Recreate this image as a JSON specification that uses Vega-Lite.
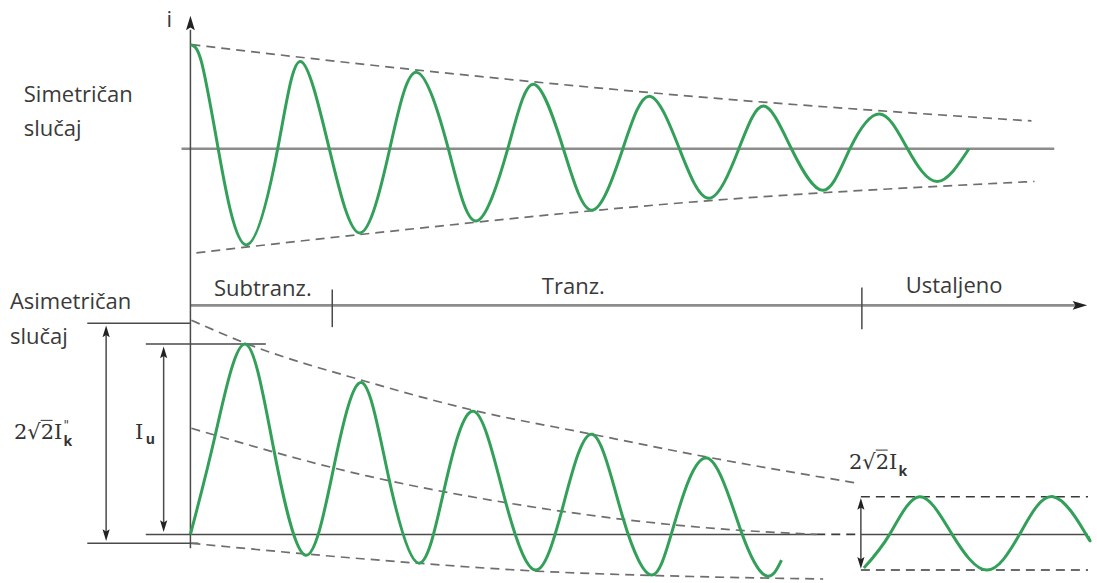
{
  "$schema": "https://vega.github.io/schema/vega-lite/v6.json",
  "width": 1097,
  "height": 583,
  "padding": 0,
  "autosize": {"type": "fit", "contains": "padding"},
  "background": "white",
  "config": {"view": {"stroke": null}},
  "datasets": {
    "waves": [
      {"w": "sym", "t": 192, "i": 45}, {"w": "sym", "t": 203, "i": 62}, {"w": "sym", "t": 220, "i": 150}, {"w": "sym", "t": 248, "i": 247}, {"w": "sym", "t": 280, "i": 150},
      {"w": "sym", "t": 303, "i": 62}, {"w": "sym", "t": 332, "i": 150}, {"w": "sym", "t": 363, "i": 235}, {"w": "sym", "t": 393, "i": 150},
      {"w": "sym", "t": 420, "i": 73}, {"w": "sym", "t": 452, "i": 150}, {"w": "sym", "t": 480, "i": 223}, {"w": "sym", "t": 512, "i": 150},
      {"w": "sym", "t": 538, "i": 85}, {"w": "sym", "t": 568, "i": 150}, {"w": "sym", "t": 597, "i": 212}, {"w": "sym", "t": 628, "i": 150},
      {"w": "sym", "t": 655, "i": 97}, {"w": "sym", "t": 685, "i": 150}, {"w": "sym", "t": 715, "i": 200}, {"w": "sym", "t": 745, "i": 150},
      {"w": "sym", "t": 770, "i": 107}, {"w": "sym", "t": 798, "i": 150}, {"w": "sym", "t": 830, "i": 192}, {"w": "sym", "t": 857, "i": 150},
      {"w": "sym", "t": 887, "i": 115}, {"w": "sym", "t": 915, "i": 150}, {"w": "sym", "t": 945, "i": 183}, {"w": "sym", "t": 977, "i": 150},
      {"w": "asym", "t": 192, "i": 539}, {"w": "asym", "t": 217, "i": 439}, {"w": "asym", "t": 247, "i": 347}, {"w": "asym", "t": 276, "i": 453},
      {"w": "asym", "t": 308, "i": 560}, {"w": "asym", "t": 337, "i": 469}, {"w": "asym", "t": 365, "i": 386}, {"w": "asym", "t": 392, "i": 482},
      {"w": "asym", "t": 422, "i": 568}, {"w": "asym", "t": 448, "i": 493}, {"w": "asym", "t": 478, "i": 415}, {"w": "asym", "t": 510, "i": 507},
      {"w": "asym", "t": 540, "i": 575}, {"w": "asym", "t": 567, "i": 513}, {"w": "asym", "t": 597, "i": 438}, {"w": "asym", "t": 628, "i": 522},
      {"w": "asym", "t": 657, "i": 580}, {"w": "asym", "t": 680, "i": 528}, {"w": "asym", "t": 713, "i": 462}, {"w": "asym", "t": 748, "i": 538},
      {"w": "asym", "t": 773, "i": 581}, {"w": "asym", "t": 788, "i": 565},
      {"w": "steady", "t": 871, "i": 573}, {"w": "steady", "t": 897, "i": 539}, {"w": "steady", "t": 927, "i": 501}, {"w": "steady", "t": 960, "i": 539},
      {"w": "steady", "t": 995, "i": 575}, {"w": "steady", "t": 1028, "i": 539}, {"w": "steady", "t": 1062, "i": 501}, {"w": "steady", "t": 1095, "i": 539},
      {"w": "steady", "t": 1097, "i": 541}
    ],
    "envelopes": [
      {"e": "symUp", "t": 193, "i": 45}, {"e": "symUp", "t": 368, "i": 65}, {"e": "symUp", "t": 720, "i": 99}, {"e": "symUp", "t": 1040, "i": 122},
      {"e": "symLo", "t": 198, "i": 255}, {"e": "symLo", "t": 368, "i": 236}, {"e": "symLo", "t": 720, "i": 202}, {"e": "symLo", "t": 1043, "i": 183},
      {"e": "asUp", "t": 193, "i": 323}, {"e": "asUp", "t": 247, "i": 346}, {"e": "asUp", "t": 370, "i": 385}, {"e": "asUp", "t": 478, "i": 414},
      {"e": "asUp", "t": 597, "i": 438}, {"e": "asUp", "t": 713, "i": 461}, {"e": "asUp", "t": 862, "i": 487},
      {"e": "asMid", "t": 193, "i": 432}, {"e": "asMid", "t": 370, "i": 480}, {"e": "asMid", "t": 510, "i": 507}, {"e": "asMid", "t": 720, "i": 533}, {"e": "asMid", "t": 823, "i": 539},
      {"e": "asLo", "t": 193, "i": 548}, {"e": "asLo", "t": 370, "i": 564}, {"e": "asLo", "t": 540, "i": 576}, {"e": "asLo", "t": 720, "i": 582}, {"e": "asLo", "t": 830, "i": 584}
    ],
    "thickRules": [
      {"t1": 183, "i1": 150, "t2": 1063, "i2": 150},
      {"t1": 192, "i1": 308, "t2": 1088, "i2": 308}
    ],
    "thinRules": [
      {"t1": 192, "i1": 30, "t2": 192, "i2": 553},
      {"t1": 335, "i1": 292, "t2": 335, "i2": 330},
      {"t1": 869, "i1": 290, "t2": 869, "i2": 332},
      {"t1": 147, "i1": 539, "t2": 823, "i2": 539},
      {"t1": 868, "i1": 539, "t2": 1097, "i2": 539},
      {"t1": 88, "i1": 326, "t2": 192, "i2": 326},
      {"t1": 147, "i1": 347, "t2": 268, "i2": 347},
      {"t1": 88, "i1": 548, "t2": 200, "i2": 548},
      {"t1": 107, "i1": 336, "t2": 107, "i2": 538},
      {"t1": 165, "i1": 357, "t2": 165, "i2": 529},
      {"t1": 868, "i1": 510, "t2": 868, "i2": 566}
    ],
    "overlines": [
      {"t1": 41, "i1": 424, "t2": 53, "i2": 424},
      {"t1": 883, "i1": 454, "t2": 895, "i2": 454}
    ],
    "dashRules": [
      {"t1": 823, "i1": 539, "t2": 868, "i2": 539},
      {"t1": 868, "i1": 501, "t2": 1097, "i2": 501},
      {"t1": 868, "i1": 575, "t2": 1097, "i2": 575}
    ],
    "axisHeads": [
      {"t": 192, "i": 24, "dir": "up"},
      {"t": 1088, "i": 308, "dir": "right"}
    ],
    "heads": [
      {"t": 107, "i": 335, "dir": "up"},
      {"t": 107, "i": 539, "dir": "down"},
      {"t": 165, "i": 356, "dir": "up"},
      {"t": 165, "i": 530, "dir": "down"},
      {"t": 868, "i": 509, "dir": "up"},
      {"t": 868, "i": 567, "dir": "down"}
    ],
    "labelsLeft": [
      {"t": 24, "i": 96, "label": "Simetričan"},
      {"t": 24, "i": 130, "label": "slučaj"},
      {"t": 10, "i": 305, "label": "Asimetričan"},
      {"t": 10, "i": 340, "label": "slučaj"},
      {"t": 168, "i": 20, "label": "i"}
    ],
    "labelsCenter": [
      {"t": 265, "i": 292, "label": "Subtranz."},
      {"t": 578, "i": 289, "label": "Tranz."},
      {"t": 962, "i": 288, "label": "Ustaljeno"}
    ],
    "mathMain": [
      {"t": 14, "i": 437, "label": "2√2I"},
      {"t": 136, "i": 437, "label": "I"},
      {"t": 856, "i": 467, "label": "2√2I"}
    ],
    "mathSup": [
      {"t": 64, "i": 430, "label": "\""}
    ],
    "mathSub": [
      {"t": 64, "i": 446, "label": "k"},
      {"t": 147, "i": 444, "label": "u"},
      {"t": 906, "i": 476, "label": "k"}
    ]
  },
  "encoding": {
    "x": {"type": "quantitative", "scale": {"domain": [0, 1097], "nice": false, "zero": false}, "axis": null},
    "y": {"type": "quantitative", "scale": {"domain": [0, 583], "nice": false, "zero": false, "reverse": true}, "axis": null}
  },
  "layer": [
    {
      "data": {"name": "thickRules"},
      "mark": {"type": "rule", "color": "#8c8c8c", "strokeWidth": 2.6},
      "encoding": {"x": {"field": "t1"}, "y": {"field": "i1"}, "x2": {"field": "t2"}, "y2": {"field": "i2"}}
    },
    {
      "data": {"name": "thinRules"},
      "mark": {"type": "rule", "color": "#4a4a4a", "strokeWidth": 1.5},
      "encoding": {"x": {"field": "t1"}, "y": {"field": "i1"}, "x2": {"field": "t2"}, "y2": {"field": "i2"}}
    },
    {
      "data": {"name": "overlines"},
      "mark": {"type": "rule", "color": "#333333", "strokeWidth": 1},
      "encoding": {"x": {"field": "t1"}, "y": {"field": "i1"}, "x2": {"field": "t2"}, "y2": {"field": "i2"}}
    },
    {
      "data": {"name": "dashRules"},
      "mark": {"type": "rule", "color": "#3a3a3a", "strokeWidth": 1.6, "strokeDash": [9, 6]},
      "encoding": {"x": {"field": "t1"}, "y": {"field": "i1"}, "x2": {"field": "t2"}, "y2": {"field": "i2"}}
    },
    {
      "data": {"name": "envelopes"},
      "mark": {"type": "line", "color": "#6e6e6e", "strokeWidth": 1.7, "strokeDash": [9, 6], "interpolate": "monotone"},
      "encoding": {"x": {"field": "t"}, "y": {"field": "i"}, "detail": {"field": "e"}}
    },
    {
      "data": {"name": "waves"},
      "mark": {"type": "line", "color": "#33a05a", "strokeWidth": 3, "interpolate": "natural"},
      "encoding": {"x": {"field": "t"}, "y": {"field": "i"}, "detail": {"field": "w"}}
    },
    {
      "data": {"name": "axisHeads"},
      "mark": {"type": "point", "filled": true, "color": "#222222", "opacity": 1, "size": 260},
      "encoding": {
        "x": {"field": "t"}, "y": {"field": "i"},
        "shape": {"field": "dir", "type": "nominal", "legend": null,
          "scale": {"domain": ["up", "down", "right"], "range": ["M0,-1L0.55,0.8L0,0.45L-0.55,0.8Z", "M0,1L0.55,-0.8L0,-0.45L-0.55,-0.8Z", "M1,0L-0.8,0.55L-0.45,0L-0.8,-0.55Z"]}}
      }
    },
    {
      "data": {"name": "heads"},
      "mark": {"type": "point", "filled": true, "color": "#222222", "opacity": 1, "size": 170},
      "encoding": {
        "x": {"field": "t"}, "y": {"field": "i"},
        "shape": {"field": "dir", "type": "nominal", "legend": null,
          "scale": {"domain": ["up", "down", "right"], "range": ["M0,-1L0.55,0.8L0,0.45L-0.55,0.8Z", "M0,1L0.55,-0.8L0,-0.45L-0.55,-0.8Z", "M1,0L-0.8,0.55L-0.45,0L-0.8,-0.55Z"]}}
      }
    },
    {
      "data": {"name": "labelsLeft"},
      "mark": {"type": "text", "align": "left", "baseline": "middle", "font": "Open Sans", "fontSize": 22, "color": "#3a3a3a"},
      "encoding": {"x": {"field": "t"}, "y": {"field": "i"}, "text": {"field": "label"}}
    },
    {
      "data": {"name": "labelsCenter"},
      "mark": {"type": "text", "align": "center", "baseline": "middle", "font": "Open Sans", "fontSize": 22, "color": "#3a3a3a"},
      "encoding": {"x": {"field": "t"}, "y": {"field": "i"}, "text": {"field": "label"}}
    },
    {
      "data": {"name": "mathMain"},
      "mark": {"type": "text", "align": "left", "baseline": "middle", "font": "DejaVu Serif", "fontSize": 21, "color": "#333333"},
      "encoding": {"x": {"field": "t"}, "y": {"field": "i"}, "text": {"field": "label"}}
    },
    {
      "data": {"name": "mathSup"},
      "mark": {"type": "text", "align": "left", "baseline": "middle", "font": "DejaVu Serif", "fontSize": 12, "color": "#333333"},
      "encoding": {"x": {"field": "t"}, "y": {"field": "i"}, "text": {"field": "label"}}
    },
    {
      "data": {"name": "mathSub"},
      "mark": {"type": "text", "align": "left", "baseline": "middle", "font": "Open Sans", "fontSize": 14, "fontWeight": "bold", "color": "#333333"},
      "encoding": {"x": {"field": "t"}, "y": {"field": "i"}, "text": {"field": "label"}}
    }
  ]
}
